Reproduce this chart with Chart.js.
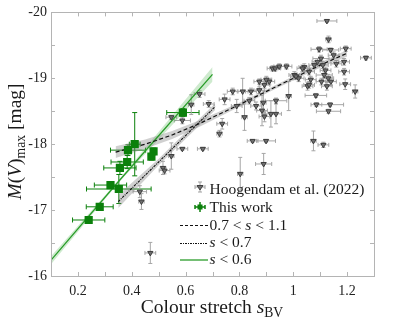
<!DOCTYPE html>
<html>
<head>
<meta charset="utf-8">
<script src="https://cdn.jsdelivr.net/npm/chart.js@4.4.1/dist/chart.umd.min.js"></script>
<style>
  html, body { margin: 0; padding: 0; background: #fff; }
</style>
</head>
<body>
<canvas id="chart" width="395" height="321"></canvas>
<script>
// This work (green squares)
const greenS    = [0.240, 0.281, 0.321, 0.352, 0.356, 0.383, 0.386, 0.411, 0.481, 0.473, 0.590];
const greenM    = [-16.85, -17.05, -17.38, -17.32, -17.64, -17.73, -17.91, -18.00, -17.89, -17.81, -18.48];
const greenSErr = [0.06, 0.05, 0.06, 0.12, 0.06, 0.06, 0.065, 0.02, 0.01, 0.01, 0.06];
const greenMErr = [0.03, 0.04, 0.04, 0.22, 0.10, 0.10, 0.08, 0.48, 0.05, 0.05, 0.06];

// Hoogendam et al. (2022) (gray triangles)
const hoogS = [0.430, 0.436, 0.469, 0.516, 0.522, 0.547, 0.588, 0.664, 0.547, 0.588,
  0.621, 0.652, 0.686, 0.726, 0.736, 0.745, 0.775, 0.790, 0.812, 0.819,
  0.803, 0.837, 0.843, 0.849, 0.862, 0.874, 0.889, 0.884, 0.893, 0.899,
  0.890, 0.893, 0.911, 0.917, 0.936, 0.923, 0.948, 0.975, 0.936, 0.983,
  1.004, 1.020, 1.041, 1.053, 1.065, 1.059, 1.078, 1.084, 1.086, 1.137,
  1.131, 1.075, 1.112, 1.125, 1.131, 1.096, 1.139, 1.195, 1.270, 1.189,
  1.103, 1.110, 1.120, 1.115, 1.130, 1.140, 1.105, 1.125, 1.189, 1.193,
  1.230, 1.059, 1.010, 1.034, 0.933, 0.900, 0.874, 1.150, 1.160, 1.090];
const hoogM = [-17.28, -17.13, -16.35, -17.64, -17.60, -17.82, -17.93, -17.93, -18.41, -18.36,
  -18.60, -18.76, -18.61, -18.16, -18.31, -18.68, -18.80, -18.58, -18.80, -18.41,
  -17.55, -18.66, -18.80, -18.05, -18.58, -18.95, -18.63, -18.51, -18.42, -18.05,
  -17.70, -18.90, -18.95, -18.46, -18.46, -19.15, -19.18, -19.18, -18.66, -18.73,
  -19.05, -19.00, -19.17, -18.88, -18.98, -19.10, -19.20, -18.74, -18.60, -18.60,
  -18.50, -18.05, -17.99, -19.87, -19.59, -19.44, -19.43, -19.45, -19.31, -19.25,
  -19.30, -19.20, -19.12, -19.05, -19.00, -18.95, -18.95, -18.88, -19.10, -18.91,
  -18.80, -18.90, -19.03, -19.15, -19.15, -18.98, -18.82, -19.35, -19.22, -19.25];
const hoogSErr = [0.025, 0.01, 0.02, 0.01, 0.02, 0.01, 0.02, 0.02, 0.02, 0.03,
  0.01, 0.02, 0.02, 0.01, 0.02, 0.02, 0.02, 0.02, 0.02, 0.01,
  0.01, 0.02, 0.02, 0.02, 0.02, 0.02, 0.01, 0.02, 0.02, 0.035,
  0.03, 0.02, 0.02, 0.02, 0.02, 0.02, 0.02, 0.02, 0.04, 0.01,
  0.02, 0.02, 0.02, 0.02, 0.02, 0.02, 0.02, 0.04, 0.02, 0.05,
  0.045, 0.01, 0.02, 0.037, 0.01, 0.03, 0.03, 0.02, 0.02, 0.02,
  0.03, 0.02, 0.02, 0.03, 0.02, 0.02, 0.02, 0.02, 0.02, 0.02,
  0.01, 0.02, 0.02, 0.02, 0.02, 0.02, 0.02, 0.02, 0.02, 0.02];
const hoogMErr = [0.09, 0.12, 0.16, 0.10, 0.05, 0.20, 0.02, 0.02, 0.03, 0.05,
  0.15, 0.05, 0.05, 0.05, 0.08, 0.08, 0.05, 0.10, 0.20, 0.20,
  0.25, 0.05, 0.05, 0.02, 0.06, 0.04, 0.18, 0.23, 0.08, 0.02,
  0.16, 0.05, 0.05, 0.20, 0.15, 0.04, 0.04, 0.04, 0.04, 0.22,
  0.05, 0.05, 0.05, 0.06, 0.05, 0.05, 0.05, 0.03, 0.03, 0.03,
  0.03, 0.15, 0.04, 0.02, 0.05, 0.04, 0.03, 0.04, 0.03, 0.05,
  0.05, 0.05, 0.05, 0.05, 0.06, 0.06, 0.05, 0.06, 0.05, 0.08,
  0.10, 0.05, 0.05, 0.05, 0.04, 0.05, 0.05, 0.05, 0.05, 0.05];

// fits: 0.7 < s < 1.1 (dashed), s < 0.7 (dash-dot), s < 0.6 (green)
const fitMidS = [0.34, 0.45, 0.55, 0.65, 0.80, 0.95, 1.10, 1.20];
const fitMidM = [-17.88, -18.00, -18.14, -18.31, -18.60, -18.90, -19.20, -19.38];
const fitMidW = [0.09, 0.07, 0.06, 0.05, 0.03, 0.03, 0.04, 0.05];
const fitLowS = [0.35, 0.50, 0.71];
const fitLowM = [-17.13, -17.73, -18.57];
const fitLowW = [0.10, 0.05, 0.05];
const fitGreenS = [0.10, 0.35, 0.70];
const fitGreenM = [-16.24, -17.43, -19.06];
const fitGreenW = [0.06, 0.02, 0.11];

const xTicks = [0.2, 0.4, 0.6, 0.8, 1, 1.2];
const yTicks = [-20, -19, -18, -17, -16];

const SERIF = '"Liberation Serif", "DejaVu Serif", serif';
const GREEN = '#0b800b';
const GREEN_LINE = '#2a9d2a';

function pts(xs, ys) {
  return xs.map((v, i) => ({ x: v, y: ys[i] }));
}
function bandEdge(xs, ys, ws, sign) {
  return xs.map((v, i) => ({ x: v, y: ys[i] + sign * ws[i] }));
}

function bandSets(xs, ys, ws, color) {
  return [
    { type: 'line', data: bandEdge(xs, ys, ws, 1), borderWidth: 0, pointRadius: 0, fill: false, order: 5 },
    { type: 'line', data: bandEdge(xs, ys, ws, -1), borderWidth: 0, pointRadius: 0, fill: '-1', backgroundColor: color, order: 5 }
  ];
}

const errorBars = {
  id: 'errorBars',
  beforeDatasetsDraw(chart) {
    const { ctx, scales: { x, y } } = chart;
    chart.data.datasets.forEach(ds => {
      if (!ds.errX) return;
      ctx.save();
      ctx.strokeStyle = ds.errColor;
      ctx.lineWidth = 1;
      ds.data.forEach((p, j) => {
        const px = x.getPixelForValue(p.x), py = y.getPixelForValue(p.y);
        const xa = x.getPixelForValue(p.x - ds.errX[j]), xb = x.getPixelForValue(p.x + ds.errX[j]);
        const ya = y.getPixelForValue(p.y - ds.errY[j]), yb = y.getPixelForValue(p.y + ds.errY[j]);
        const c = ds.capSize;
        ctx.beginPath();
        ctx.moveTo(xa, py); ctx.lineTo(xb, py);
        ctx.moveTo(xa, py - c); ctx.lineTo(xa, py + c);
        ctx.moveTo(xb, py - c); ctx.lineTo(xb, py + c);
        ctx.moveTo(px, ya); ctx.lineTo(px, yb);
        ctx.moveTo(px - c, ya); ctx.lineTo(px + c, ya);
        ctx.moveTo(px - c, yb); ctx.lineTo(px + c, yb);
        ctx.stroke();
      });
      ctx.restore();
    });
  }
};

// draw runs of [text, italic, sizeScale, baselineShift]
function drawRuns(ctx, runs, x, y, size) {
  let cx = x;
  runs.forEach(r => {
    const sz = size * (r[2] || 1);
    ctx.font = (r[1] ? 'italic ' : '') + sz + 'px ' + SERIF;
    ctx.fillText(r[0], cx, y + (r[3] || 0));
    cx += ctx.measureText(r[0]).width;
  });
  return cx - x;
}
function runsWidth(ctx, runs, size) {
  let w = 0;
  runs.forEach(r => {
    ctx.font = (r[1] ? 'italic ' : '') + size * (r[2] || 1) + 'px ' + SERIF;
    w += ctx.measureText(r[0]).width;
  });
  return w;
}

const frame = {
  id: 'frame',
  afterDraw(chart) {
    const { ctx, chartArea: a, scales: { x, y } } = chart;
    ctx.save();
    ctx.strokeStyle = '#b4b4b4';
    ctx.lineWidth = 1;
    ctx.strokeRect(Math.round(a.left) + 0.5, Math.round(a.top) + 0.5, Math.round(a.right - a.left), Math.round(a.bottom - a.top));
    ctx.beginPath();
    x.ticks.forEach(t => {
      const px = Math.round(x.getPixelForValue(t.value)) + 0.5;
      ctx.moveTo(px, a.bottom); ctx.lineTo(px, a.bottom - 4);
      ctx.moveTo(px, a.top); ctx.lineTo(px, a.top + 4);
    });
    y.ticks.forEach(t => {
      const py = Math.round(y.getPixelForValue(t.value)) + 0.5;
      ctx.moveTo(a.left, py); ctx.lineTo(a.left + 4, py);
      ctx.moveTo(a.right, py); ctx.lineTo(a.right - 4, py);
    });
    ctx.stroke();

    // axis titles
    ctx.fillStyle = '#1a1a1a';
    ctx.textBaseline = 'alphabetic';
    const xRuns = [['Colour stretch ', false], ['s', true], ['BV', false, 0.7, 4]];
    const xs = 19.5;
    const xw = runsWidth(ctx, xRuns, xs);
    drawRuns(ctx, xRuns, 212 - xw / 2, 313, xs);

    const yRuns = [['M', true], ['(', false], ['V', true], [')', false], ['max', false, 0.7, 4], [' [mag]', false]];
    const yw = runsWidth(ctx, yRuns, xs);
    ctx.save();
    ctx.translate(21, 141.5);
    ctx.rotate(-Math.PI / 2);
    drawRuns(ctx, yRuns, -yw / 2, 0, xs);
    ctx.restore();

    // legend
    const ls = 15.5;
    const tx = 209.5;
    ctx.textBaseline = 'middle';
    drawRuns(ctx, [['Hoogendam et al. (2022)', false]], tx, 190, ls);
    drawRuns(ctx, [['This work', false]], tx, 208, ls);
    drawRuns(ctx, [['0.7 < ', false], ['s', true], [' < 1.1', false]], tx, 225.5, ls);
    drawRuns(ctx, [['s', true], [' < 0.7', false]], tx, 243, ls);
    drawRuns(ctx, [['s', true], [' < 0.6', false]], tx, 260, ls);

    // legend markers
    ctx.strokeStyle = '#a0a0a0';
    ctx.beginPath();
    ctx.moveTo(195, 187); ctx.lineTo(205, 187);
    ctx.moveTo(195, 185); ctx.lineTo(195, 189);
    ctx.moveTo(205, 185); ctx.lineTo(205, 189);
    ctx.moveTo(200, 182); ctx.lineTo(200, 192);
    ctx.moveTo(198, 182); ctx.lineTo(202, 182);
    ctx.moveTo(198, 192); ctx.lineTo(202, 192);
    ctx.stroke();
    ctx.fillStyle = '#707070';
    ctx.strokeStyle = '#404040';
    ctx.beginPath();
    ctx.moveTo(197, 185.5); ctx.lineTo(203, 185.5); ctx.lineTo(200, 190); ctx.closePath();
    ctx.fill(); ctx.stroke();

    ctx.strokeStyle = GREEN;
    ctx.lineWidth = 1.5;
    ctx.beginPath();
    ctx.moveTo(195, 207); ctx.lineTo(205, 207);
    ctx.moveTo(195, 205); ctx.lineTo(195, 209);
    ctx.moveTo(205, 205); ctx.lineTo(205, 209);
    ctx.moveTo(200, 202); ctx.lineTo(200, 212);
    ctx.stroke();
    ctx.fillStyle = GREEN;
    ctx.fillRect(197.5, 204.5, 5, 5);

    ctx.lineWidth = 1;
    ctx.strokeStyle = '#111';
    ctx.setLineDash([3, 2]);
    ctx.beginPath(); ctx.moveTo(180, 225.5); ctx.lineTo(208, 225.5); ctx.stroke();
    ctx.setLineDash([2, 1, 1, 1]);
    ctx.beginPath(); ctx.moveTo(180, 243.5); ctx.lineTo(208, 243.5); ctx.stroke();
    ctx.setLineDash([]);
    ctx.strokeStyle = GREEN_LINE;
    ctx.lineWidth = 1.3;
    ctx.beginPath(); ctx.moveTo(180, 260); ctx.lineTo(208, 260); ctx.stroke();
    ctx.restore();
  }
};

new Chart(document.getElementById('chart'), {
  type: 'scatter',
  data: {
    datasets: [
      {
        label: 'This work',
        data: pts(greenS, greenM),
        errX: greenSErr, errY: greenMErr, errColor: GREEN, capSize: 2.5,
        pointStyle: 'rect', pointRadius: 5.8, backgroundColor: GREEN, borderColor: GREEN, borderWidth: 0,
        order: 0
      },
      {
        label: 'Hoogendam et al. (2022)',
        data: pts(hoogS, hoogM),
        errX: hoogSErr, errY: hoogMErr, errColor: '#a6a6a6', capSize: 2,
        pointStyle: 'triangle', rotation: 180, pointRadius: 3,
        backgroundColor: '#707070', borderColor: '#3c3c3c', borderWidth: 1,
        order: 1
      },
      {
        type: 'line', label: '0.7 < s < 1.1', data: pts(fitMidS, fitMidM),
        borderColor: '#111', borderWidth: 1.2, borderDash: [4, 2.5], pointRadius: 0, fill: false, order: 2
      },
      {
        type: 'line', label: 's < 0.7', data: pts(fitLowS, fitLowM),
        borderColor: '#111', borderWidth: 1.1, borderDash: [2.5, 1, 1, 1], pointRadius: 0, fill: false, order: 2
      },
      {
        type: 'line', label: 's < 0.6', data: pts(fitGreenS, fitGreenM),
        borderColor: GREEN_LINE, borderWidth: 1.3, pointRadius: 0, fill: false, order: 2
      },
      ...bandSets(fitMidS, fitMidM, fitMidW, 'rgba(120,120,120,0.35)'),
      ...bandSets(fitLowS, fitLowM, fitLowW, 'rgba(120,120,120,0.35)'),
      ...bandSets(fitGreenS, fitGreenM, fitGreenW, 'rgba(60,170,60,0.25)')
    ]
  },
  options: {
    responsive: false,
    animation: false,
    layout: { padding: { top: 6, right: 21, left: 0, bottom: 0 } },
    plugins: { legend: { display: false }, tooltip: { enabled: false } },
    scales: {
      x: {
        type: 'linear', min: 0.1, max: 1.3,
        grid: { display: false, drawTicks: false },
        border: { display: false },
        afterFit: s => { s.height = 45; },
        ticks: {
          stepSize: 0.1, autoSkip: false, maxRotation: 0, padding: 7,
          color: '#222', font: { family: SERIF, size: 14 },
          callback: v => {
            const r = Math.round(v * 10) / 10;
            return xTicks.some(t => Math.abs(t - r) < 1e-6) ? String(r) : '';
          }
        }
      },
      y: {
        type: 'linear', min: -20, max: -16, reverse: true,
        grid: { display: false, drawTicks: false },
        border: { display: false },
        afterFit: s => { s.width = 51; },
        ticks: {
          stepSize: 0.5, autoSkip: false, padding: 4,
          color: '#222', font: { family: SERIF, size: 14 },
          callback: v => yTicks.includes(v) ? String(v) : ''
        }
      }
    }
  },
  plugins: [errorBars, frame]
});
</script>
</body>
</html>
